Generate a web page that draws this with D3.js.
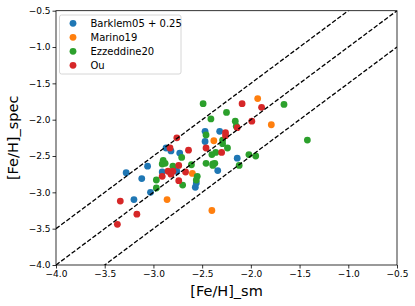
<!DOCTYPE html>
<html>
<head>
<meta charset="utf-8">
<script src="https://cdn.jsdelivr.net/npm/d3@7"></script>
<style>
  body { margin: 0; background: #fff; }
  text { font-family: "DejaVu Sans", sans-serif; }
</style>
</head>
<body>
<svg id="chart"></svg>
<script>
// [Fe/H]_sm vs [Fe/H]_spec, one pair of arrays per survey
var barklemX = [-3.28, -3.12, -3.20, -3.06, -3.03, -2.87, -2.82, -2.73, -2.91, -2.76, -2.47, -2.47, -2.32, -2.34, -2.14, -2.57, -2.56];
var barklemY = [-2.73, -2.81, -3.10, -2.64, -3.00, -2.39, -2.43, -2.46, -2.72, -2.71, -2.16, -2.30, -2.16, -2.70, -2.53, -2.93, -2.87];

var marinoX = [-1.93, -1.79, -2.38, -2.60, -2.86, -2.40];
var marinoY = [-1.71, -2.07, -2.29, -2.74, -3.10, -3.25];

var ezzX = [-2.49, -2.41, -2.25, -2.46, -2.29, -2.29, -2.24, -2.16, -2.15, -1.66, -1.42, -2.02, -1.95, -2.12, -2.40, -2.36, -2.46, -2.39, -2.37, -2.39, -2.61, -2.71, -2.70, -2.55, -2.56, -2.80, -2.90, -2.91, -2.88, -2.97, -2.97];
var ezzY = [-1.78, -1.99, -1.90, -2.21, -2.28, -2.33, -2.39, -2.02, -2.09, -1.79, -2.28, -2.48, -2.50, -2.63, -2.48, -2.45, -2.60, -2.61, -2.60, -2.63, -2.62, -2.52, -2.90, -2.78, -2.83, -2.64, -2.56, -2.61, -2.60, -2.83, -2.94];

var ouX = [-2.76, -2.83, -2.64, -2.46, -2.26, -2.26, -2.14, -2.09, -1.99, -1.89, -2.30, -2.74, -2.85, -2.80, -2.82, -2.91, -2.67, -2.74, -3.34, -3.17, -3.37];
var ouY = [-2.25, -2.39, -2.42, -2.39, -2.18, -2.22, -2.11, -1.78, -2.02, -1.83, -2.45, -2.63, -2.71, -2.71, -2.75, -2.78, -2.72, -2.84, -3.12, -3.30, -3.44];

var seriesNames = ["Barklem05 + 0.25", "Marino19", "Ezzeddine20", "Ou"];
var seriesColors = ["#1f77b4", "#ff7f0e", "#2ca02c", "#d62728"];
var seriesX = [barklemX, marinoX, ezzX, ouX];
var seriesY = [barklemY, marinoY, ezzY, ouY];

// dashed reference lines: y = x + offset
var lineOffsets = [0.5, 0, -0.5];
var tickValues = [-4.0, -3.5, -3.0, -2.5, -2.0, -1.5, -1.0, -0.5];

var width = 415;
var height = 306;
var margin = {left: 56, right: 18, top: 10.7, bottom: 41};

var svg = d3.select("#chart")
            .attr("width", width)
            .attr("height", height);

var x = d3.scaleLinear().domain([-4.0, -0.5]).range([margin.left, width - margin.right]);
var y = d3.scaleLinear().domain([-4.0, -0.5]).range([height - margin.bottom, margin.top]);

var clip = svg.append("clipPath").attr("id", "clip")
  .append("rect")
  .attr("x", x(-4)).attr("y", y(-0.5))
  .attr("width", x(-0.5) - x(-4)).attr("height", y(-4) - y(-0.5));

var plot = svg.append("g").attr("clip-path", "url(#clip)");

// points
seriesNames.forEach(function(name, k) {
  var pts = seriesX[k].map(function(v, i) { return [v, seriesY[k][i]]; });
  plot.append("g").selectAll("circle")
    .data(pts)
    .enter()
    .append("circle")
    .attr("cx", function(d) { return x(d[0]); })
    .attr("cy", function(d) { return y(d[1]); })
    .attr("r", 3.4)
    .attr("fill", seriesColors[k]);
});

// dashed lines
plot.selectAll("line.ref")
  .data(lineOffsets)
  .enter()
  .append("line")
  .attr("class", "ref")
  .attr("x1", x(-4.0))
  .attr("y1", function(d) { return y(-4.0 + d); })
  .attr("x2", x(-0.5))
  .attr("y2", function(d) { return y(-0.5 + d); })
  .attr("stroke", "black")
  .attr("stroke-width", 1.3)
  .attr("stroke-dasharray", "4.5,2");

// axes
var fmt = function(d) { return d3.format(".1f")(d).replace("-", "\u2212"); };

var xAxis = svg.append("g")
  .attr("transform", "translate(0," + (height - margin.bottom) + ")")
  .call(d3.axisBottom(x).tickValues(tickValues).tickFormat(fmt).tickSize(3.5).tickPadding(2));

var yAxis = svg.append("g")
  .attr("transform", "translate(" + margin.left + ",0)")
  .call(d3.axisLeft(y).tickValues(tickValues).tickFormat(fmt).tickSize(3.5).tickPadding(2));

[xAxis, yAxis].forEach(function(a) {
  a.select(".domain").remove();
  a.selectAll(".tick line").attr("stroke", "black").attr("stroke-width", 0.8);
  a.selectAll(".tick text").attr("font-size", 9).attr("fill", "black")
   .attr("font-family", "DejaVu Sans");
});

// frame
svg.append("rect")
  .attr("x", x(-4)).attr("y", y(-0.5))
  .attr("width", x(-0.5) - x(-4)).attr("height", y(-4) - y(-0.5))
  .attr("fill", "none")
  .attr("stroke", "black")
  .attr("stroke-width", 0.8);

// axis labels
svg.append("text")
  .text("[Fe/H]_sm")
  .attr("x", (x(-4) + x(-0.5)) / 2)
  .attr("y", 296)
  .attr("text-anchor", "middle")
  .attr("font-size", 14.5);

svg.append("text")
  .text("[Fe/H]_spec")
  .attr("transform", "translate(18," + ((y(-4) + y(-0.5)) / 2) + ") rotate(-90)")
  .attr("text-anchor", "middle")
  .attr("font-size", 14.5);

// legend
var legend = svg.append("g").attr("transform", "translate(59.5,15)");
legend.append("rect")
  .attr("width", 121.5)
  .attr("height", 59)
  .attr("rx", 2)
  .attr("fill", "white")
  .attr("fill-opacity", 0.8)
  .attr("stroke", "#cccccc")
  .attr("stroke-width", 0.8);

var rows = legend.selectAll("g.row")
  .data(seriesNames)
  .enter()
  .append("g")
  .attr("class", "row")
  .attr("transform", function(d, i) { return "translate(0," + (8.3 + i * 14) + ")"; });

rows.append("circle")
  .attr("cx", 13.5)
  .attr("cy", 0)
  .attr("r", 3.4)
  .attr("fill", function(d, i) { return seriesColors[i]; });

rows.append("text")
  .text(function(d) { return d; })
  .attr("x", 31)
  .attr("y", 3.5)
  .attr("font-size", 10);
</script>
</body>
</html>
